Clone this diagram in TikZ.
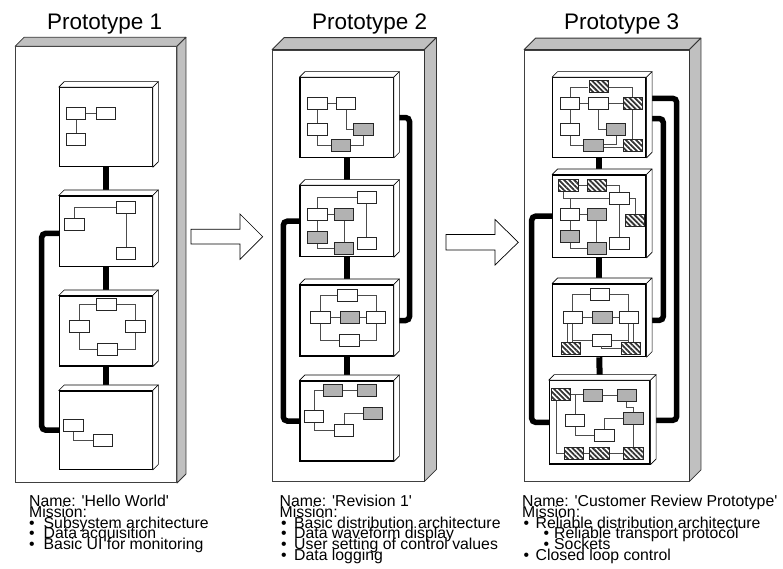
\documentclass[tikz,border=0pt]{standalone}
\usepackage{fontspec}
\setmainfont{Liberation Sans}
\usetikzlibrary{calc,patterns.meta}
\definecolor{panelgrey}{RGB}{192,192,192}
\definecolor{boxgrey}{RGB}{178,178,178}
\pgfdeclarelayer{panel}
\pgfdeclarelayer{wires}
\pgfsetlayers{panel,wires,main}
\tikzset{
 panelface/.style={draw=black!75, line width=0.8pt, fill=white, inner sep=0pt},
 panelside/.style={fill=panelgrey, draw=black!80, line width=0.8pt, line join=round},
 nodeface/.style={draw=black, line width=1.1pt, fill=white, inner sep=0pt},
 innerface/.style={fill=white, draw=black, line width=0.6pt, line join=round},
 sb/.style={draw=black!85, line width=0.9pt, fill=white, minimum width=19.3pt, minimum height=12pt, inner sep=0pt, anchor=north west},
 gb/.style={sb, fill=boxgrey},
 hb/.style={sb, pattern={Lines[angle=-45,distance=3.6pt,line width=1.8pt]}, pattern color=black!80},
 ln/.style={draw=black!70, line width=0.75pt},
 spine/.style={line width=6pt, black},
 bus/.style={line width=5.5pt, black, rounded corners=4pt},
 bigarrow/.style={draw=black, line width=0.7pt, fill=white, line join=miter},
 title/.style={font=\fontsize{22.5}{24}\selectfont, anchor=base west, inner sep=0pt},
 txt/.style={font=\fontsize{15.8}{10.8}\selectfont, anchor=base west, inner sep=0pt},
}
\newcommand\cubefaces[3]{%
 \filldraw[#3] (#1.north west) -- ++(#2,-#2) -- ($(#1.north east)+(#2,-#2)$) -- (#1.north east) -- cycle;
 \filldraw[#3] (#1.north east) -- ++(#2,-#2) -- ($(#1.south east)+(#2,-#2)$) -- (#1.south east) -- cycle;}
\newcommand\unitbox[5]{\node[nodeface, minimum width=#4pt, minimum height=#5pt] (#1) at (#2,#3) {};\cubefaces{#1}{5.5}{innerface}}
\newcommand\panelbox[6]{\node[panelface, minimum width=#4pt, minimum height=#5pt] (#1) at (#2,#3) {};\cubefaces{#1}{#6}{panelside}}
% one text line with a bullet: indent of bullet, gap to text, text
\newcommand\bl[3]{\hbox{\hspace*{#1pt}\makebox[#2pt][l]{•}#3}}
\newcommand\pl[1]{\hbox{#1}}
\newcommand\lines[1]{\vtop{\baselineskip=10.8pt\lineskiplimit=-30pt\lineskip=0pt #1}}
\begin{document}
\begin{tikzpicture}[x=1pt,y=-1pt]
\useasboundingbox (0,0) rectangle (783,568);
% ---------- panels ----------
\begin{pgfonlayer}{panel}
\panelbox{P1}{96}{264.7}{161}{436}{9}
\panelbox{P2}{348.25}{265.5}{151.5}{431}{12}
\panelbox{P3}{606.75}{265.5}{164.5}{431}{11.5}
\end{pgfonlayer}
% ---------- titles ----------
\node[title] (T1) at (47,29.5) {Prototype 1};
\node[title] (T2) at (312,29.5) {Prototype 2};
\node[title] (T3) at (564,29.5) {Prototype 3};
% ---------- inner units ----------
\unitbox{A1}{105.8}{127.2}{93}{79}
\unitbox{B1}{105.8}{231.35}{93}{70.7}
\unitbox{C1}{105.8}{331}{93}{70}
\unitbox{D1}{105.8}{430.15}{93}{78.3}
\unitbox{A2}{346.65}{117.5}{93.3}{79.6}
\unitbox{B2}{346.65}{221.2}{93.3}{71}
\unitbox{C2}{346.65}{320.5}{93.3}{71}
\unitbox{D2}{346.65}{421}{93.3}{80}
\unitbox{A3}{599.35}{117.5}{93.3}{79.6}
\unitbox{B3}{599.35}{216.15}{93.3}{82.3}
\unitbox{C3}{599.35}{320.35}{93.3}{72.7}
\unitbox{D3}{599.65}{422.35}{100.7}{83.3}
% ---------- thick wires ----------
\coordinate (L1) at (41.7,330);
\coordinate (L2) at (283.3,320);
\coordinate (R2) at (409.5,220);
\coordinate (L3) at (531.7,320);
\coordinate (R3a) at (663.3,220);
\coordinate (R3b) at (676.7,260);
\coordinate (b1w) at ($(B1.west)+(0,2)$);
\coordinate (a2e) at ($(A2.east)+(5,0)$);
\coordinate (c2e) at ($(C2.east)+(5,0)$);
\coordinate (a3e1) at ($(A3.east)+(5,1)$);
\coordinate (a3e2) at ($(A3.east)+(5,-19.2)$);
\coordinate (c3e) at ($(C3.east)+(5,0)$);
\coordinate (d3e) at ($(D3.east)+(5,-2)$);
\begin{pgfonlayer}{wires}
\draw[spine] (A1.south) -- (B1.north);
\draw[spine] (B1.south) -- (C1.north);
\draw[spine] (C1.south) -- (D1.north);
\draw[spine] (A2.south) -- (B2.north);
\draw[spine] (B2.south) -- (C2.north);
\draw[spine] (C2.south) -- (D2.north);
\draw[spine] (A3.south) -- (B3.north);
\draw[spine] (B3.south) -- (C3.north);
\draw[spine] (C3.south) -- (D3.north);
\draw[bus] (b1w) -| (L1) |- (D1.west);
\draw[bus] (B2.west) -| (L2) |- (D2.west);
\draw[bus] (a2e) -| (R2) |- (c2e);
\draw[bus] (B3.west) -| (L3) |- (D3.west);
\draw[bus] (a3e1) -| (R3a) |- (c3e);
\draw[bus] (a3e2) -| (R3b) |- (d3e);
\end{pgfonlayer}
% ---------- panel 1 contents ----------
\node[sb] (p1a) at (66,107) {};
\node[sb] (p1b) at (95.7,107) {};
\node[sb] (p1c) at (66,132.7) {};
\draw[ln] (p1a.east) -- (p1b.west);
\draw[ln] (p1a.south) -- (p1c.north);
\node[sb] (q1) at (116,200.7) {};
\node[sb] (q2) at (64.3,218.3) {};
\node[sb] (q3) at (116,246.7) {};
\draw[ln] (q2.north) |- (q1.west);
\draw[ln] (q1.south) -- (q3.north);
\node[sb] (r1) at (96.3,297.7) {};
\node[sb] (r2) at (69.3,320.3) {};
\node[sb] (r3) at (125.3,320.3) {};
\node[sb] (r4) at (97.3,343.3) {};
\draw[ln] (r1.west) -| (r2.north);
\draw[ln] (r1.east) -| (r3.north);
\draw[ln] (r2.south) |- (r4.west);
\draw[ln] (r3.south) |- (r4.east);
\node[sb] (s1) at (63.3,419.3) {};
\node[sb] (s2) at (92.7,434.3) {};
\draw[ln] (s1.south) |- (s2.west);
% ---------- panel 2 contents ----------
\node[sb] (t1) at (307.3,97.3) {};
\node[sb] (t2) at (336,97.3) {};
\node[sb] (t3) at (307.3,123.3) {};
\node[gb] (t4) at (353.3,123.3) {};
\node[gb] (t5) at (330.7,139.3) {};
\draw[ln] (t1.east) -- (t2.west);
\draw[ln] (t1.south) -- (t3.north);
\draw[ln] (t2.south) |- (t4.west);
\draw[ln] (t3.south) |- (t5.west);
\draw[ln] (t5.east) -| (t4.south);
\node[sb] (u1) at (356.7,190.7) {};
\node[sb] (u2) at (307.3,207.7) {};
\node[gb] (u3) at (334,207.7) {};
\node[gb] (u4) at (307.3,230.7) {};
\node[gb] (u5) at (334,241.7) {};
\node[sb] (u6) at (356.7,236.7) {};
\draw[ln] (u2.north) |- (u1.west);
\draw[ln] (u2.east) -- (u3.west);
\draw[ln] (u2.south) -- (u4.north);
\draw[ln] (u3.south) -- (u5.north);
\draw[ln] (u4.south) |- (u5.west);
\draw[ln] (u1.south) -- (u6.north);
\node[sb] (v1) at (337.3,288.5) {};
\node[sb] (v2) at (310.3,311) {};
\node[gb] (v3) at (339.7,311) {};
\node[sb] (v4) at (365.8,311) {};
\node[sb] (v5) at (339.2,333.7) {};
\draw[ln] (v1.west) -| (v2.north);
\draw[ln] (v1.east) -| (v4.north);
\draw[ln] (v2.south) |- (v5.west);
\draw[ln] (v4.south) |- (v5.east);
\draw[ln] (v2.east) -- (v3.west);
\draw[ln] (v3.east) -- (v4.west);
\node[gb] (w1) at (322.7,384.3) {};
\node[gb] (w2) at (356.7,384.3) {};
\node[sb] (w3) at (304,410) {};
\node[gb] (w4) at (362.7,406.7) {};
\node[sb] (w5) at (334,424) {};
\draw[ln] (w1.east) -- (w2.west);
\draw[ln] (w3.north) |- (w1.west);
\draw[ln] (w3.south) |- (w5.west);
\draw[ln] (w5.north) |- (w4.west);
% ---------- panel 3 contents ----------
\node[hb] (x1) at (588.3,80) {};
\node[sb] (x2) at (560,97.3) {};
\node[sb] (x3) at (588.3,97.3) {};
\node[hb] (x4) at (622.7,97.3) {};
\node[sb] (x5) at (560,123.3) {};
\node[gb] (x6) at (606,123.3) {};
\node[gb] (x7) at (583.3,139.3) {};
\node[hb] (x8) at (622.7,139.3) {};
\draw[ln] (x2.north) |- (x1.west);
\draw[ln] (x1.east) -| (x4.north);
\draw[ln] (x2.east) -- (x3.west);
\draw[ln] (x3.east) -- (x4.west);
\draw[ln] (x2.south) -- (x5.north);
\draw[ln] (x3.south) |- (x6.west);
\draw[ln] (x5.south) |- (x7.west);
\draw[ln] ([yshift=1.5pt]x7.east) -| (x6.south);
\draw[ln] ([yshift=-2pt]x7.east) -- ([yshift=-2pt]x8.west);
\draw[ln] (x4.south) -- (x8.north);
\node[hb] (y1) at (558.3,179.3) {};
\node[hb] (y2) at (586.7,179.3) {};
\node[sb] (y3) at (609.3,191.7) {};
\node[hb] (y4) at (625,214) {};
\node[sb] (y5) at (560,207.7) {};
\node[gb] (y6) at (586.7,207.7) {};
\node[gb] (y7) at (560,230) {};
\node[gb] (y8) at (586.7,241.7) {};
\node[sb] (y9) at (609.3,236.7) {};
\draw[ln] (y1.east) -- (y2.west);
\draw[ln] (y2.east) -| (y3.north);
\draw[ln] ([xshift=-5pt]y1.south) |- (y3.west);
\draw[ln] (y5.north) -- (y5.north |- y3.west);
\draw[ln] (y3.east) -| (y4.north);
\draw[ln] (y3.south) -- (y9.north);
\draw[ln] (y5.east) -- (y6.west);
\draw[ln] (y5.south) -- (y7.north);
\draw[ln] (y6.south) -- (y8.north);
\draw[ln] (y7.south) |- (y8.west);
\node[sb] (z1) at (589.8,288) {};
\node[sb] (z2) at (562.5,311) {};
\node[gb] (z3) at (592.3,311) {};
\node[sb] (z4) at (618.5,311) {};
\node[sb] (z5) at (591.5,333.5) {};
\node[hb] (z6) at (560.7,341.7) {};
\node[hb] (z7) at (621,341.7) {};
\draw[ln] (z1.west) -| (z2.north);
\draw[ln] (z1.east) -| (z4.north);
\draw[ln] (z2.east) -- (z3.west);
\draw[ln] (z3.east) -- (z4.west);
\draw[ln] (z2.south) -- (z2.south |- z6.north);
\draw[ln] ([xshift=-5pt]z2.south) -- ([xshift=-5pt]z2.south |- z6.north);
\draw[ln] (z4.south) -- (z4.south |- z7.north);
\draw[ln] ([xshift=5pt]z4.south) -- ([xshift=5pt]z4.south |- z7.north);
\draw[ln] (z5.west) -- (z5.west -| z2.south);
\draw[ln] (z5.east) -- (z5.east -| z4.south);
\draw[ln] (z5.south) |- (z7.west);
\node[hb] (d1) at (551,387.7) {};
\node[gb] (d2) at (582.7,389.3) {};
\node[gb] (d3) at (616.7,389.3) {};
\node[gb] (d4) at (623.3,411.7) {};
\node[sb] (d5) at (565,414) {};
\node[sb] (d6) at (594.3,429.3) {};
\node[hb] (d7) at (564,447.3) {};
\node[hb] (d8) at (589.3,447.3) {};
\node[hb] (d9) at (623.3,447.3) {};
\draw[ln] (d1.east) -- (d1.east -| d2.west);
\draw[ln] (d2.east) -- (d3.west);
\draw[ln] (d3.south) -- ++(0,5) -| (d4.north);
\draw[ln] (d5.north) -- (d5.north |- d1.east);
\draw[ln] (d5.south) |- (d6.west);
\draw[ln] (d6.north) |- (d4.west);
\draw[ln] (d4.south) -- (d9.north);
\draw[ln] ([xshift=-5pt]d1.south) |- (d7.west);
\draw[ln] (d7.east) -- (d8.west);
\draw[ln] (d8.east) -- (d9.west);
% ---------- block arrows ----------
\filldraw[bigarrow] (191,229.3) -- (240,229.3) -- (240,214) -- (262.7,236.7) -- (240,259.3) -- (240,244) -- (191,244) -- cycle;
\filldraw[bigarrow] (446,234.5) -- (495,234.5) -- (495,219.5) -- (518.3,242.3) -- (495,265) -- (495,250) -- (446,250) -- cycle;
% ---------- texts ----------
\node[txt] (N1) at (29,506.5) {\lines{%
 \pl{Name: \textquotesingle Hello World\textquotesingle}
 \pl{Mission:}
 \bl{0}{14.5}{Subsystem architecture}
 \bl{0}{14.5}{Data acquisition}
 \bl{0}{14.5}{Basic UI for monitoring}}};
\node[txt] (N2) at (279.5,506.5) {\lines{%
 \pl{Name: \textquotesingle Revision 1\textquotesingle}
 \pl{Mission:}
 \bl{1.5}{13}{Basic distribution architecture}
 \bl{1.5}{13}{Data waveform display}
 \bl{1.5}{13}{User setting of control values}
 \bl{1.5}{13}{Data logging}}};
\node[txt] (N3) at (522,506.5) {\lines{%
 \pl{Name: \textquotesingle Customer Review Prototype\textquotesingle}
 \pl{Mission:}
 \bl{1.5}{12}{Reliable distribution architecture}
 \bl{21.5}{10.5}{Reliable transport protocol}
 \bl{21.5}{10.5}{Sockets}
 \bl{1.5}{12}{Closed loop control}}};
\end{tikzpicture}
\end{document}
